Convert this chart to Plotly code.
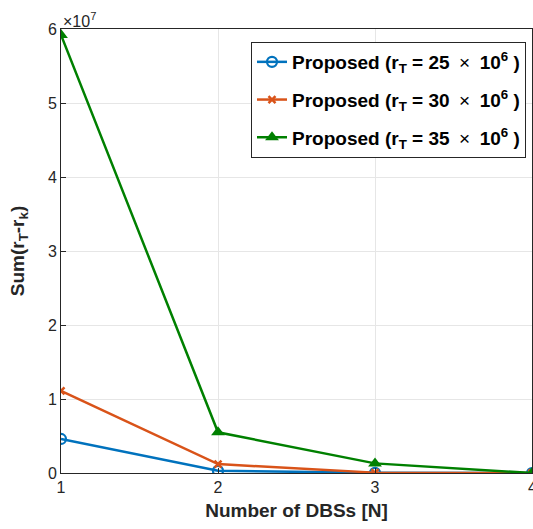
import plotly.graph_objects as go

x_vals = [1, 2, 3, 4]
y_25 = [4.6e6, 0.3e6, 0.02e6, 0.0]
y_30 = [11.1e6, 1.2e6, 0.05e6, 0.0]
y_35 = [59.2e6, 5.5e6, 1.3e6, 0.0]
r_targets = ["25", "30", "35"]
x_ticks = [1, 2, 3, 4]
x_ticktext = ["1", "2", "3", "4"]
y_ticks = [0, 1e7, 2e7, 3e7, 4e7, 5e7, 6e7]
y_ticktext = ["0", "1", "2", "3", "4", "5", "6"]

FONT = "Liberation Sans, Arial, Helvetica"
names = ["<b>Proposed (r<sub>T</sub> = %s</b>\u2002\u00d7\u2002<b>10<sup>6</sup>\u00a0)</b>" % r
         for r in r_targets]

fig = go.Figure()
fig.add_trace(go.Scatter(x=x_vals, y=y_25, name=names[0], mode="lines+markers", legendgroup="a",
                         line=dict(color="#0072BD", width=2.5),
                         marker=dict(symbol="circle-open", size=10, color="#0072BD", line=dict(width=2.2))))
fig.add_trace(go.Scatter(x=x_vals, y=y_30, name=names[1], mode="lines+markers", legendgroup="b",
                         line=dict(color="#D95319", width=2.5),
                         marker=dict(symbol="x-thin-open", size=7, color="#D95319", line=dict(width=2.5, color="#D95319"))))
fig.add_trace(go.Scatter(x=x_vals, y=y_35, name=names[2], mode="lines+markers", legendgroup="c",
                         line=dict(color="#008000", width=2.5),
                         marker=dict(symbol="triangle-up", size=12, color="#008000")))

axis_common = dict(showgrid=True, gridcolor="#E6E6E6", gridwidth=1, showline=True,
                   linecolor="#262626", linewidth=1, mirror=True, ticks="inside",
                   ticklen=5, tickcolor="#262626", zeroline=False,
                   tickfont=dict(family=FONT, size=16, color="#262626"))

fig.update_xaxes(range=[1, 4], tickvals=x_ticks, ticktext=x_ticktext[:-1] + [""],
                 title=dict(text="<b>Number of DBSs [N]</b>", standoff=8,
                            font=dict(family=FONT, size=19, color="#262626")),
                 **axis_common)
fig.update_yaxes(range=[0, 6e7], tickvals=y_ticks, ticktext=y_ticktext,
                 title=dict(text="<b>Sum(r<sub>T</sub>-r<sub>k</sub>)</b>", standoff=18,
                            font=dict(family=FONT, size=19, color="#262626")),
                 **axis_common)

# last x tick label (partly outside the picture, as in the reference)
fig.add_annotation(text=x_ticktext[-1], x=x_ticks[-1], xref="x", yref="paper", y=0,
                   yanchor="top", xanchor="center", showarrow=False, yshift=-4,
                   font=dict(family=FONT, size=16, color="#262626"))

fig.add_annotation(text="\u00d710<sup>7</sup>", xref="paper", yref="paper", x=0.0, y=1.0,
                   xanchor="left", yanchor="bottom", showarrow=False, yshift=-3,
                   font=dict(family=FONT, size=16, color="#262626"))

fig.update_layout(
    width=533, height=529,
    margin=dict(l=61, r=1, t=29, b=56),
    plot_bgcolor="white", paper_bgcolor="white",
    legend=dict(x=(526 - 61) / 471, y=(473 - 42) / 444, xanchor="right", yanchor="top",
                bgcolor="white", bordercolor="#262626", borderwidth=1,
                traceorder="grouped", tracegroupgap=10,
                font=dict(family=FONT, size=19, color="black")),
)

fig.write_html("out.html")
